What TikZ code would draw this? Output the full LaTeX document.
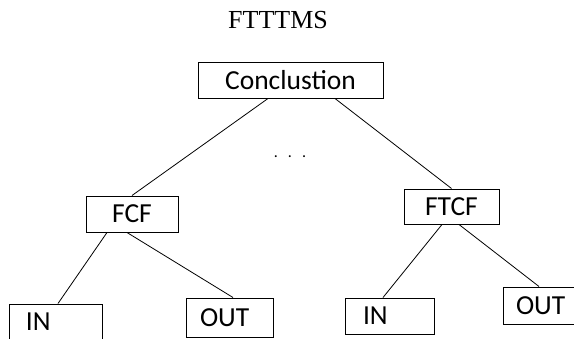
\documentclass[tikz,border=0pt]{standalone}
\usepackage{fontspec}
\setmainfont{Carlito}
\newfontfamily\titlefont{Liberation Serif}
\usepackage{tikz}
\usetikzlibrary{arrows,shapes}
\usetikzlibrary{positioning}
\tikzstyle{edge}=[draw,line width=0.8pt]
\tikzstyle{tbox} = [rectangle, draw, line width=1pt, inner sep=0pt, font=\fontsize{27.5}{30}\selectfont]
\tikzstyle{leaf} = [tbox, align=left, inner xsep=#1]

\begin{document}
\begin{tikzpicture}[x=1pt,y=-1pt]
\useasboundingbox (0,0) rectangle (574,338);
\node [anchor=base,font=\titlefont\fontsize{26}{28}\selectfont] (title) at (278,28) {FTTTMS};
\node [tbox,minimum width=185pt,minimum height=36pt] (conc) at (290.5,80) {Conclustion};
\node [anchor=base,font=\fontsize{16}{16}\selectfont] (dots) at (290,157) {.\hspace{10pt}.\hspace{10pt}.};

\node [tbox,minimum width=92pt,minimum height=36pt] (fcf) at (132,214) {FCF};
\node [tbox,minimum width=95pt,minimum height=35pt] (ftcf) at (451.5,206.5) {FTCF};

\node [leaf=17pt,text width=59pt,minimum height=36pt] (fcfin) at (55.5,322) {IN};
\node [leaf=14pt,text width=59pt,minimum height=39pt] (fcfout) at (229.5,317.5) {OUT};
\node [leaf=18pt,text width=53pt,minimum height=36pt] (ftcfin) at (389.5,316) {IN};
\node [leaf=13pt,text width=51pt,minimum height=37pt] (ftcfout) at (541.5,305.5) {OUT};

\draw[edge] ([xshift=-22.5pt]conc.south) -- (fcf.north);
\draw[edge] ([xshift=44.5pt]conc.south) -- (ftcf.north);
\draw[edge] ([xshift=-25pt]fcf.south) -- ([xshift=2.5pt]fcfin.north);
\draw[edge] ([xshift=-5pt]fcf.south) -- ([xshift=3.5pt]fcfout.north);
\draw[edge] ([xshift=-9.5pt]ftcf.south) -- ([xshift=-6.5pt]ftcfin.north);
\draw[edge] ([xshift=7.5pt]ftcf.south) -- ([xshift=-2.5pt]ftcfout.north);
\end{tikzpicture}
\end{document}
